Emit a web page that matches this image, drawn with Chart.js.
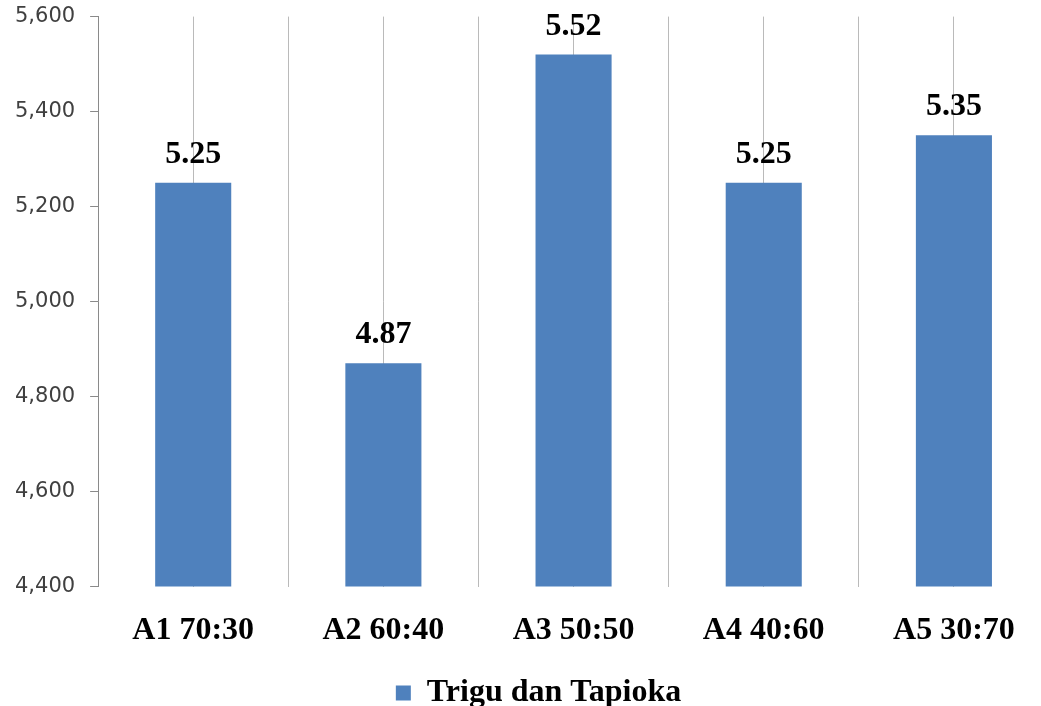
<!DOCTYPE html>
<html>
<head>
<meta charset="utf-8">
<script src="https://cdn.jsdelivr.net/npm/chart.js@4/dist/chart.umd.min.js"></script>
<style>
  html, body { margin: 0; padding: 0; background: #ffffff; overflow: hidden; width: 1041px; height: 706px; }
  #wrap { position: relative; width: 1041px; height: 706px; overflow: hidden; }
  #c { position: absolute; left: 0; top: -11px; }
</style>
</head>
<body>
<div id="wrap"><canvas id="c" width="1049" height="730"></canvas></div>
<script>
// Categories: wheat : tapioca ratios
const categories = ['A1 70:30', 'A2 60:40', 'A3 50:50', 'A4 40:60', 'A5 30:70'];
// Series values
const seriesName = 'Trigu dan Tapioka';
const seriesValues = [5250, 4870, 5520, 5250, 5350];
// Value labels shown above each bar
const valueLabels = ['5.25', '4.87', '5.52', '5.25', '5.35'];
// Y-axis range and step
const yMin = 4400;
const yMax = 5600;
const yStep = 200;

const barColor = '#4f81bd';
const gridColor = '#bababa';
const axisColor = '#8a8a8a';
const serif = '"Liberation Serif", "Times New Roman", serif';

// Draws the value labels above each bar
const valueLabelPlugin = {
  id: 'valueLabels',
  afterDatasetsDraw(chart) {
    const ctx = chart.ctx;
    const meta = chart.getDatasetMeta(0);
    ctx.save();
    ctx.font = 'bold 32px ' + serif;
    ctx.fillStyle = '#000000';
    ctx.textAlign = 'center';
    ctx.textBaseline = 'alphabetic';
    meta.data.forEach((bar, i) => {
      ctx.fillText(valueLabels[i], bar.x, bar.y - 20);
    });
    ctx.restore();
  }
};

// Nudges the legend to the right so it sits under the middle of the plot
const legendShift = {
  id: 'legendShift',
  afterLayout(chart) {
    const lg = chart.legend;
    if (lg) { lg.left += 14; lg.right += 14; }
  }
};

new Chart(document.getElementById('c'), {
  type: 'bar',
  data: {
    labels: categories,
    datasets: [{
      label: seriesName,
      data: seriesValues,
      backgroundColor: barColor,
      borderWidth: 0,
      barPercentage: 0.4,
      categoryPercentage: 1.0
    }]
  },
  options: {
    responsive: false,
    animation: false,
    devicePixelRatio: 1,
    layout: { padding: { left: 0, right: 0, top: 0, bottom: 0 } },
    plugins: {
      tooltip: { enabled: false },
      legend: {
        position: 'bottom',
        labels: {
          boxWidth: 15,
          boxHeight: 15,
          padding: 2,
          color: '#000000',
          font: { family: serif, size: 32, weight: 'bold' }
        }
      }
    },
    scales: {
      x: {
        offset: true,
        grid: { offset: true, color: gridColor, lineWidth: 1, drawTicks: false },
        border: { display: false },
        ticks: {
          padding: 25,
          color: '#000000',
          font: { family: serif, size: 32, weight: 'bold' }
        }
      },
      x2: {
        type: 'category',
        position: 'bottom',
        offset: true,
        grid: { offset: false, color: gridColor, lineWidth: 1, drawTicks: false },
        border: { display: false },
        ticks: { display: false },
        afterFit(scale) { scale.height = 0; }
      },
      y: {
        min: yMin,
        max: yMax,
        grid: { drawOnChartArea: false, drawTicks: true, tickLength: 8, color: axisColor },
        border: { display: true, color: axisColor, width: 1 },
        ticks: {
          stepSize: yStep,
          padding: 15,
          color: '#404040',
          font: { family: '"DejaVu Sans", Verdana, sans-serif', size: 21 },
          callback: (v) => v.toLocaleString('en-US')
        }
      }
    }
  },
  plugins: [valueLabelPlugin, legendShift]
});
</script>
</body>
</html>
